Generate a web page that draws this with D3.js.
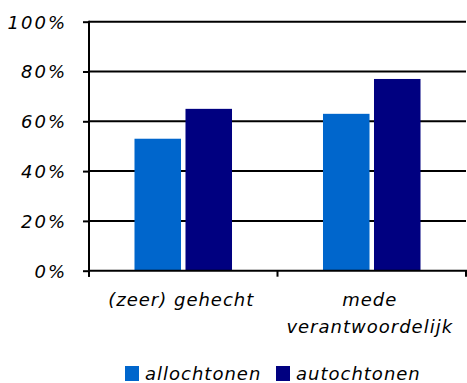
<!DOCTYPE html>
<html>
<head>
<meta charset="utf-8">
<script src="https://cdn.jsdelivr.net/npm/d3@7"></script>
<style>
  body { margin: 0; background: #fff; }
  text { font-family: "DejaVu Sans", Verdana, sans-serif; font-style: italic; font-size: 18px; fill: #000; letter-spacing: 1px; }
</style>
</head>
<body>
<svg id="chart" width="467" height="383"></svg>
<script>
// Share of respondents per group (percent)
const categories = ["(zeer) gehecht", "mede verantwoordelijk"];
const seriesNames = ["allochtonen", "autochtonen"];
const allochtonen = [53, 63];
const autochtonen = [65, 77];
const yTicks = [0, 20, 40, 60, 80, 100];
const colors = ["#0066CC", "#000080"];

const svg = d3.select("#chart");
const margin = { left: 89, right: 466, top: 21.7, bottom: 270.7 };

const x = d3.scaleBand().domain(categories).range([margin.left, margin.right]).paddingInner(0).paddingOuter(0);
const xInner = d3.scaleBand().domain(seriesNames).range([0, x.bandwidth()]).paddingInner(0.088).paddingOuter(0.892);
const y = d3.scaleLinear().domain([0, 100]).range([margin.bottom, margin.top]);

// horizontal gridlines
svg.append("g").selectAll("line").data(yTicks.filter(d => d > 0)).join("line")
  .attr("x1", margin.left).attr("x2", margin.right)
  .attr("y1", d => y(d)).attr("y2", d => y(d))
  .attr("stroke", "#000").attr("stroke-width", 2);

// bars
const series = [allochtonen, autochtonen];
seriesNames.forEach((name, si) => {
  svg.append("g").selectAll("rect").data(categories).join("rect")
    .attr("x", c => x(c) + xInner(name))
    .attr("width", xInner.bandwidth())
    .attr("y", (c, i) => y(series[si][i]))
    .attr("height", (c, i) => y(0) - y(series[si][i]))
    .attr("fill", colors[si]);
});

// y axis
const yAxis = d3.axisLeft(y).tickValues(yTicks).tickFormat(d => d + "%").tickSize(6).tickPadding(16);
const gy = svg.append("g").attr("transform", `translate(${margin.left},0)`).call(yAxis);
gy.select(".domain").attr("stroke", "#000").attr("stroke-width", 2).attr("d", `M0,${margin.top - 1}V${margin.bottom + 6}`);
gy.selectAll(".tick line").attr("stroke", "#000").attr("stroke-width", 2);
gy.selectAll(".tick text").attr("font-size", null).attr("font-family", null).attr("dy", "0.36em")
  .style("letter-spacing", "2px");

// x axis (ticks at category boundaries)
svg.append("line").attr("x1", margin.left).attr("x2", margin.right + 1)
  .attr("y1", y(0)).attr("y2", y(0)).attr("stroke", "#000").attr("stroke-width", 2);
const boundaries = [margin.left, ...categories.map(c => x(c) + x.bandwidth())];
svg.append("g").selectAll("line").data(boundaries).join("line")
  .attr("x1", d => d).attr("x2", d => d)
  .attr("y1", y(0)).attr("y2", y(0) + 6)
  .attr("stroke", "#000").attr("stroke-width", 2);

// category labels, wrapped
const lines = { "(zeer) gehecht": ["(zeer) gehecht"], "mede verantwoordelijk": ["mede", "verantwoordelijk"] };
categories.forEach(c => {
  const cx = x(c) + x.bandwidth() / 2 - 2;
  const t = svg.append("text").attr("text-anchor", "middle").attr("x", cx).attr("y", 306);
  lines[c].forEach((l, i) => {
    t.append("tspan").attr("x", cx).attr("y", 306 + i * 27).text(l);
  });
});

// legend
const legendX = [125, 276];
seriesNames.forEach((name, i) => {
  svg.append("rect").attr("x", legendX[i]).attr("y", 366).attr("width", 14).attr("height", 15).attr("fill", colors[i]);
  svg.append("text").attr("x", legendX[i] + 20).attr("y", 380).text(name);
});
</script>
</body>
</html>
